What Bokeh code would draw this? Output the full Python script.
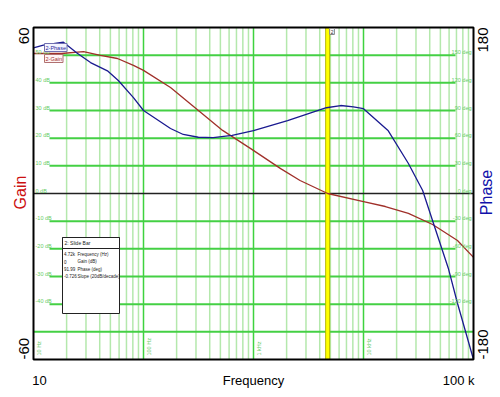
import math
from bokeh.plotting import figure
from bokeh.models import Range1d, Label, BoxAnnotation
from bokeh.embed import file_html
from bokeh.resources import INLINE

# ---- data ----
gain_freq = [10, 17.9, 28.5, 40.6, 58, 81, 100, 176, 524, 936, 1765, 2650, 4720,
             10000, 15800, 25600, 42500, 71500, 100000]
gain_db = [50.6, 50.6, 51.3, 49.9, 48.8, 46.3, 44.5, 38.3, 22.8, 16.3, 9.0, 4.7, 0.0,
           -2.9, -4.7, -7.2, -11.2, -17.0, -23.1]

phase_freq = [10, 12.3, 18.7, 25, 33, 47, 59, 81, 100, 176, 230, 315, 430, 640, 1000,
              2040, 4600, 6200, 8100, 10000, 16800, 25600, 34500, 43300, 59000, 71500, 100000]
phase_deg = [158, 161, 164, 152, 142, 133, 122.5, 104, 90, 70.5, 64, 61, 60.5, 63, 68.3,
             79, 93, 95.4, 94, 92, 68, 32.5, 3.3, -32.5, -81, -119, -180]

gain_levels = [50, 40, 30, 20, 10, -10, -20, -30, -40]
decades = [10, 100, 1000, 10000, 100000]
decade_labels = ["10 Hz", "100 Hz", "1 kHz", "10 kHz"]
cursor_freq = 4720
slide_values = ["4.72k", "0", "91.99", "-0.726"]
slide_names = ["Frequency (Hz)", "Gain (dB)", "Phase (deg)", "Slope (20dB/decade)"]

G_MIN, G_MAX = -60, 60
F_MIN, F_MAX = 10, 100000

# page-pixel helpers (plot box: x 33..473, y 27..359 in a 500x397 canvas)
W, H = 500, 397
def fx(px):
    return 10 ** (1 + (px - 33) / 110.0)

def gy(py):
    return 60 - (py - 27) * 120.0 / 332.0

p = figure(width=W, height=H, x_axis_type="log", output_backend="svg",
           toolbar_location=None, x_range=Range1d(fx(0), fx(W)), y_range=Range1d(gy(H), gy(0)),
           min_border_left=0, min_border_right=0, min_border_top=0, min_border_bottom=0)
p.extra_y_ranges = {"phase": Range1d(3 * gy(H), 3 * gy(0))}
p.xaxis.visible = False
p.yaxis.visible = False
p.xgrid.visible = False
p.ygrid.visible = False
p.outline_line_color = None
p.background_fill_color = "white"
p.border_fill_color = "white"

SANS = "Liberation Sans"

# vertical grid
minor_x = [m * d for d in decades[:-1] for m in range(2, 10)]
p.segment(x0=minor_x, y0=[G_MIN] * len(minor_x), x1=minor_x, y1=[G_MAX] * len(minor_x),
          line_color="#b4e8ac", line_width=1.5)
p.segment(x0=decades[1:-1], y0=[G_MIN] * 3, x1=decades[1:-1], y1=[G_MAX] * 3,
          line_color="#3fd23f", line_width=1.5)

# horizontal grid
p.segment(x0=[fx(49)] * len(gain_levels), y0=gain_levels,
          x1=[fx(455)] * len(gain_levels), y1=gain_levels,
          line_color="#44d044", line_width=2)
p.segment(x0=[F_MIN], y0=[-50], x1=[F_MAX], y1=[-50], line_color="#44d044", line_width=2)
p.segment(x0=[F_MIN], y0=[0], x1=[F_MAX], y1=[0], line_color="#222222", line_width=1.5)

small = "5.5px"
grid_txt = "#66cc66"
for v in gain_levels + [0]:
    p.add_layout(Label(x=fx(35), y=v, text=f"{v} dB", text_font_size=small,
                       text_color=grid_txt, text_baseline="middle", y_offset=3,
                       text_font=SANS))
    p.add_layout(Label(x=fx(471), y=v, text=f"{v * 3} deg", text_font_size=small,
                       text_color=grid_txt, text_baseline="middle", text_align="right",
                       y_offset=3, text_font=SANS))
for d, t in zip(decades, decade_labels):
    p.add_layout(Label(x=d, y=G_MIN, text=t, angle=math.pi / 2, text_font_size=small,
                       text_color=grid_txt, text_baseline="top", x_offset=2, y_offset=4,
                       text_font=SANS))

# cursor
p.line([cursor_freq, cursor_freq], [G_MIN, G_MAX], line_color="#b8b800", line_width=5)
p.line([cursor_freq, cursor_freq], [G_MIN, G_MAX], line_color="#ffff00", line_width=3)
p.add_layout(Label(x=cursor_freq, y=G_MAX, text="2", text_font_size="5px", text_color="#333333",
                   x_offset=2, y_offset=-7, background_fill_color="white", text_font=SANS,
                   border_line_color="#888888", padding=1))

# curves
p.line(gain_freq, gain_db, line_color="#a0302a", line_width=1.3)
p.line(phase_freq, phase_deg, y_range_name="phase", line_color="#1a1a90", line_width=1.3)

# plot frame
p.quad(left=[F_MIN], right=[F_MAX], bottom=[G_MIN], top=[G_MAX], fill_color=None,
       line_color="black", line_width=2)

# legend boxes
p.add_layout(Label(x=fx(44), y=gy(47), text="2-Phase", text_font_size="5.5px",
                   text_color="#2a2a9a", text_baseline="middle",
                   background_fill_color="#f4f4ff", border_line_color="#7070b0", padding=1,
                   text_font=SANS))
p.add_layout(Label(x=fx(44), y=gy(58), text="2-Gain", text_font_size="5.5px",
                   text_color="#a03030", text_baseline="middle",
                   background_fill_color="#fff4f4", border_line_color="#b07070", padding=1,
                   text_font=SANS))

# slide bar box
p.add_layout(BoxAnnotation(left=fx(62), right=fx(119), top=gy(237), bottom=gy(313),
                           fill_color="white", fill_alpha=1, line_color="#222222",
                           line_width=1, line_alpha=1))
p.add_layout(BoxAnnotation(left=fx(62), right=fx(119), top=gy(237), bottom=gy(248),
                           fill_color="white", fill_alpha=1, line_color="#222222",
                           line_width=1, line_alpha=1))
p.add_layout(Label(x=fx(64), y=gy(242.5), text="2: Slide Bar", text_font_size="5px",
                   text_font=SANS, text_color="#222222", text_baseline="middle"))
for i, (sv, sn) in enumerate(zip(slide_values, slide_names)):
    yy = gy(254 + 7.3 * i)
    p.add_layout(Label(x=fx(63.5), y=yy, text=sv, text_font_size="4.5px", text_font=SANS,
                       text_color="#222222", text_baseline="middle"))
    p.add_layout(Label(x=fx(77), y=yy, text=sn, text_font_size="4.5px", text_font=SANS,
                       text_color="#222222", text_baseline="middle"))

# outer texts
p.add_layout(Label(x=fx(28), y=gy(27), text="60", angle=math.pi / 2, text_font_size="15px",
                   text_font=SANS, text_align="right", text_baseline="bottom", text_color="black"))
p.add_layout(Label(x=fx(28), y=gy(359), text="-60", angle=math.pi / 2, text_font_size="15px",
                   text_font=SANS, text_align="left", text_baseline="bottom", text_color="black"))
p.add_layout(Label(x=fx(28), y=gy(192), text="Gain", angle=math.pi / 2, text_font_size="16px",
                   text_font=SANS, text_align="center", text_baseline="bottom", text_color="#cc1111"))
p.add_layout(Label(x=fx(477), y=gy(27), text="180", angle=math.pi / 2, text_font_size="15px",
                   text_font=SANS, text_align="right", text_baseline="top", text_color="black"))
p.add_layout(Label(x=fx(477), y=gy(359), text="-180", angle=math.pi / 2, text_font_size="15px",
                   text_font=SANS, text_align="left", text_baseline="top", text_color="black"))
p.add_layout(Label(x=fx(477), y=gy(192), text="Phase", angle=math.pi / 2, text_font_size="16px",
                   text_font=SANS, text_align="center", text_baseline="top", text_color="#1111aa"))
p.add_layout(Label(x=fx(39), y=gy(380), text="10", text_font_size="13px", text_font=SANS,
                   text_align="center", text_baseline="middle", text_color="black"))
p.add_layout(Label(x=fx(253), y=gy(380), text="Frequency", text_font_size="13px", text_font=SANS,
                   text_align="center", text_baseline="middle", text_color="black"))
p.add_layout(Label(x=fx(474), y=gy(380), text="100 k", text_font_size="13px", text_font=SANS,
                   text_align="right", text_baseline="middle", text_color="black"))

open("out.html", "w").write(file_html(p, INLINE))
